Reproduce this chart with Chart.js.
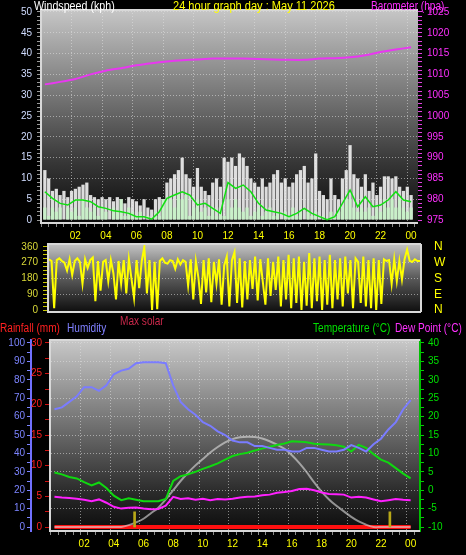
<!DOCTYPE html>
<html>
<head>
<meta charset="utf-8">
<title>24 hour graph day : May 11 2026</title>
<script src="https://cdn.jsdelivr.net/npm/chart.js@4.4.1/dist/chart.umd.min.js"></script>
<style>
  html, body { margin: 0; padding: 0; background: #000; }
  body { width: 466px; height: 555px; position: relative; overflow: hidden; font-family: "Liberation Sans", Arial, sans-serif; }
  canvas { position: absolute; left: 0; }
  .lbl { position: absolute; font-size: 12px; line-height: 12px; white-space: nowrap; transform-origin: left top; transform: scaleX(0.84); }
</style>
</head>
<body>
<canvas id="windChart" width="466" height="241" style="top:0"></canvas>
<canvas id="dirChart" width="466" height="77" style="top:241px"></canvas>
<canvas id="tempChart" width="466" height="237" style="top:318px"></canvas>

<div class="lbl" style="left:34px;top:0;color:#fff;transform:scaleX(0.89)">Windspeed (kph)</div>
<div class="lbl" style="left:173px;top:0;color:#ffff00;transform:scaleX(0.92)">24 hour graph day : May 11 2026</div>
<div class="lbl" style="left:371px;top:0;color:#ff30ff">Barometer (hpa)</div>
<div class="lbl" style="left:120px;top:315px;color:#c8284a">Max solar</div>
<div class="lbl" style="left:0;top:322px;color:#ff2020">Rainfall (mm)</div>
<div class="lbl" style="left:67px;top:322px;color:#8080ff">Humidity</div>
<div class="lbl" style="left:313px;top:322px;color:#00e000">Temperature (°C)</div>
<div class="lbl" style="left:395px;top:322px;color:#ff30ff">Dew Point (°C)</div>

<script>
// ---- data (hours 0..24) ----
// gusts / speeds every 15 min, kph
const windGust = [
  12, 10, 7, 7.5,   6, 7, 5.5, 7,   7.5, 8, 8.5, 9,   6, 5.5, 5, 5.5,
  5, 5.5, 4.5, 5.5, 5, 4, 5.5, 5,   4.5, 3.5, 5, 3,   2.5, 5, 5.5, 5,
  9, 10, 11, 12,    15, 11, 10, 8,  12.5, 8, 7, 6,    9, 10, 8, 15,
  14, 15, 13, 16,   15, 13, 10, 9,  8, 10, 8, 9,      11, 12, 9, 10,
  8, 9, 11, 12,     13, 9, 10, 16,  7, 6, 5, 10,      6, 5, 10, 12,
  18, 11, 10, 8,    11, 7, 9, 6,    8, 10.5, 10.5, 10, 10.5, 8, 7, 8,
  6
];
const windSpeed = [
  3, 1, 3, 2,  3, 0, 3, 2,  3, 1, 5, 3,  2, 3, 1, 3,
  2, 0, 3, 2,  5, 1, 3, 2,  1, 2, 0, 1,  0, 2, 1, 5,
  5, 5, 3, 6,  5, 6, 1, 3,  5, 2, 3, 1,  3, 1, 3, 1,
  5, 3, 5, 3,  2, 3, 1, 2,  3, 1, 2, 3,  1, 2, 0, 2,
  1, 3, 1, 2,  0, 2, 1, 2,  0, 1, 0, 2,  1, 2, 3, 5,
  5, 3, 2, 3,  2, 3, 1, 3,  2, 5, 3, 5,  3, 5, 3, 2,
  3
];
// average wind every 30 min
const windAvg = [
  6.8, 5.2, 4, 3.6, 4.8, 4.8, 4.4, 3.2, 2.8, 2.2, 2, 1.6,
  0.8, 0.8, 0.2, 2, 5.2, 6, 6.8, 6, 3.6, 4, 2.8, 1.6,
  9, 7.6, 8.4, 6.8, 4, 2.4, 2, 1.6, 0.8, 1.6, 2.8, 1.6,
  0.8, 0.1, 0.8, 4, 7.2, 3.2, 5.6, 3.2, 3.6, 4.8, 6.8, 4.8,
  4.4
];
// barometer hourly, hPa
const baroHpa = [
  1007.6, 1008.2, 1008.9, 1010.0, 1010.9, 1011.5, 1012.2, 1012.7, 1013.1, 1013.4,
  1013.6, 1013.8, 1013.8, 1013.8, 1013.7, 1013.6, 1013.5, 1013.5, 1013.8, 1013.9,
  1014.1, 1014.6, 1015.4, 1016.0, 1016.5
];
// wind direction every 10 min, degrees
const windDir = [
  290, 280, 10, 285, 295, 280,   270, 225, 290, 200, 280, 295,
  275, 150, 290, 240, 285, 300,  50, 280, 110, 275, 285, 165,
  285, 210, 60, 280, 150, 285,   95, 290, 180, 70, 285, 125,
  280, 360, 95, 285, 0, 275,     5, 280, 295, 270, 265, 285,
  280, 235, 290, 260, 285, 275,  140, 290, 60, 280, 185, 35,
  285, 100, 295, 45, 275, 150,   290, 30, 255, 305, 20, 285,
  330, 40, 295, 15, 280, 60,     285, 120, 305, 55, 290, 160,
  30, 295, 80, 275, 115, 305,    20, 285, 60, 315, 10, 295,
  40, 305, 0, 275, 25, 325,      10, 295, 50, 305, 0, 285,
  30, 315, 10, 285, 60, 295,     20, 305, 95, 285, 10, 295,
  275, 40, 305, 20, 285, 10,     295, 0, 285, 35, 290, 280,
  285, 150, 290, 165, 280, 175,  290, 345, 280, 275, 290, 280,
  280
];
// every 30 min
const humidity = [
  64, 65, 68, 71, 76, 76, 74, 77, 83, 85, 86, 89,
  89.5, 89.5, 89.5, 89, 77, 68, 64, 61, 57, 55, 52, 50,
  47, 46, 46, 44, 44, 43, 42, 42, 41, 41, 43, 43,
  42, 41, 41, 42, 44.5, 43, 41, 45, 48, 53, 57, 64,
  69
];
const temperature = [
  4.8, 4.3, 3.6, 3.2, 2.2, 1.3, 2.1, 0.6, -1.5, -2.7, -2.2, -2.6,
  -3, -3, -3, -2.4, 2.5, 3.8, 4.3, 5, 5.8, 6.5, 7.3, 8.3,
  9.3, 9.8, 10.2, 10.8, 11.3, 11.8, 12.3, 12.7, 13.3, 13.2, 13, 12.6,
  12.5, 12.4, 12.2, 11.8, 10.5, 12.3, 11.5, 9.8, 8.3, 7.5, 6, 4.5,
  3.2
];
const dewPoint = [
  -1.8, -2, -2.1, -2.3, -2.6, -3, -2.5, -3.4, -4.5, -5, -4.8, -4.7,
  -5, -5.2, -5.1, -4.2, -1.8, -2.4, -2.2, -2.6, -2.3, -2.7, -2.4, -2.5,
  -2.3, -2, -1.8, -1.7, -1.4, -1.2, -0.7, -0.5, -0.2, 0.3, 0.4, 0,
  -0.6, -1, -1.1, -1.2, -2, -1.8, -2, -2.5, -3, -2.7, -2.4, -2.6,
  -2.7
];
const maxSolar = [
  0, 0, 0, 0, 0, 0, 0, 0, 0, 0, 20, 50,
  90, 150, 210, 300, 400, 500, 590, 670, 740, 810, 870, 920,
  955, 975, 982, 978, 962, 932, 895, 850, 780, 695, 595, 485,
  385, 300, 230, 170, 110, 60, 25, 0, 0, 0, 0, 0,
  0
];
// rain hourly, mm
const rainMm = [0, 0, 0, 0, 0, 0, 0, 0, 0, 0, 0, 0, 0, 0, 0, 0, 0, 0, 0, 0, 0, 0, 0, 0, 0];
// sunrise / sunset markers (hour)
const sunHours = [5.4, 22.6];

// tick labels
const hourLabels = ['02', '04', '06', '08', '10', '12', '14', '16', '18', '20', '22', '00'];
const windTicks = [0, 5, 10, 15, 20, 25, 30, 35, 40, 45, 50];
const baroTicks = [975, 980, 985, 990, 995, 1000, 1005, 1010, 1015, 1020, 1025];
const dirTicks = [0, 90, 180, 270, 360];
const compassLabels = ['N', 'E', 'S', 'W', 'N'];
const humTicks = [0, 10, 20, 30, 40, 50, 60, 70, 80, 90, 100];
const rainTicks = [0, 5, 10, 15, 20, 25, 30];
const tempTicks = [-10, -5, 0, 5, 10, 15, 20, 25, 30, 35, 40];

// ---- helpers ----
const pts = (arr, step) => arr.map((v, i) => ({ x: i * step, y: v }));
const range = (a, b, s) => { const r = []; for (let v = a; v <= b + 1e-9; v += s) r.push(+v.toFixed(3)); return r; };
const gridCol = 'rgba(225,225,225,0.55)';
const font = { family: '"Liberation Sans", Arial, sans-serif', size: 10 };

// fixed axis box, no extra label padding (keeps the plot areas where they are)
const fix = (w, h) => s => {
  if (w != null) s.width = w;
  if (h != null) s.height = h;
  s.paddingTop = s.paddingBottom = s.paddingLeft = s.paddingRight = 0;
};

const hourTick = v => {
  const i = hourLabels.findIndex((_, k) => (k + 1) * 2 === v);
  return i >= 0 ? hourLabels[i] : '';
};

function xAxis(min, max, h) {
  return {
    type: 'linear', min, max,
    afterBuildTicks: s => { s.ticks = range(0, 24, 0.5).map(v => ({ value: v })); },
    afterFit: fix(null, h),
    ticks: { color: '#ffff00', font, padding: 3, maxRotation: 0, autoSkip: false, callback: hourTick },
    grid: { color: c => (c.tick && c.tick.value % 2 === 0) ? gridCol : 'transparent', tickColor: '#8a8a8a', tickLength: 4 },
    border: { display: false, dash: [1, 2] }
  };
}

// panel background + light frame
const panelBg = {
  id: 'panelBg',
  beforeDraw(chart, args, opts) {
    const { ctx, chartArea: a } = chart;
    const g = ctx.createLinearGradient(0, a.top, 0, a.bottom);
    opts.stops.forEach(s => g.addColorStop(s[0], s[1]));
    ctx.save();
    ctx.fillStyle = g;
    ctx.fillRect(a.left, a.top, a.right - a.left, a.bottom - a.top);
    ctx.restore();
  },
  afterDatasetsDraw(chart, args, opts) {
    const { ctx, chartArea: a } = chart;
    ctx.save();
    ctx.strokeStyle = '#d8d8d8';
    ctx.lineWidth = 2;
    ctx.beginPath();
    if (opts.right) { ctx.moveTo(a.right, a.top); ctx.lineTo(a.right, a.bottom); }
    ctx.moveTo(a.right, a.bottom); ctx.lineTo(a.left, a.bottom);
    ctx.lineTo(a.left, a.top); ctx.lineTo(a.right, a.top);
    ctx.stroke();
    ctx.restore();
  }
};

const base = {
  responsive: false,
  animation: false,
  events: []
};

// ---- panel 1: wind + barometer ----
new Chart(document.getElementById('windChart'), {
  type: 'bar',
  data: {
    datasets: [
      { type: 'line', label: 'Barometer', data: pts(baroHpa, 1), yAxisID: 'yBaro',
        borderColor: '#e838f0', borderWidth: 2, pointRadius: 0, tension: 0.2, order: 0 },
      { type: 'line', label: 'Average', data: pts(windAvg, 0.5), yAxisID: 'y',
        borderColor: '#10e010', borderWidth: 1.5, pointRadius: 0, order: 1 },
      { label: 'Speed', data: pts(windSpeed, 0.25), yAxisID: 'y', grouped: false,
        backgroundColor: 'rgba(200,242,200,0.92)', barPercentage: 0.85, categoryPercentage: 1, order: 2 },
      { label: 'Gust', data: pts(windGust, 0.25), yAxisID: 'y', grouped: false,
        backgroundColor: 'rgba(242,242,242,0.9)', barPercentage: 0.85, categoryPercentage: 1, order: 3 }
    ]
  },
  options: Object.assign({}, base, {
    layout: { padding: { top: 10 } },
    plugins: { legend: { display: false }, tooltip: { enabled: false },
      panelBg: { stops: [[0, '#c6c6c6'], [0.45, '#6c6c6c'], [0.72, '#363636'], [1, '#0a0a0a']] } },
    scales: {
      x: xAxis(0, 24.2, 18),
      y: {
        position: 'left', min: -0.72, max: 50.48,
        afterBuildTicks: s => { s.ticks = range(0, 50, 1).map(v => ({ value: v })); },
        afterFit: fix(41),
        ticks: { color: '#d0dcff', font, padding: 5, autoSkip: false,
          callback: v => windTicks.includes(v) ? String(v) : '' },
        grid: { color: c => (c.tick && c.tick.value % 5 === 0 && c.tick.value > 0) ? gridCol : 'transparent',
          tickColor: '#9a9a9a', tickLength: 4 },
        border: { display: false, dash: [1, 2] }
      },
      yBaro: {
        position: 'right', min: 974.28, max: 1025.48,
        afterBuildTicks: s => { s.ticks = range(975, 1025, 1).map(v => ({ value: v })); },
        afterFit: fix(48),
        ticks: { color: '#ff30ff', font, padding: 5, autoSkip: false,
          callback: v => baroTicks.includes(v) ? String(v) : '' },
        grid: { drawOnChartArea: false, tickColor: '#e040e0', tickLength: 4 },
        border: { display: false }
      }
    }
  }),
  plugins: [panelBg]
});

// ---- panel 2: wind direction ----
new Chart(document.getElementById('dirChart'), {
  type: 'line',
  data: {
    datasets: [
      { label: 'Direction', data: pts(windDir, 1 / 6), borderColor: '#ffff00', borderWidth: 2,
        pointRadius: 0, yAxisID: 'y' }
    ]
  },
  options: Object.assign({}, base, {
    layout: { padding: { top: 3, bottom: 6 } },
    plugins: { legend: { display: false }, tooltip: { enabled: false },
      panelBg: { right: true, stops: [[0, '#c4c4c4'], [0.5, '#5a5a5a'], [1, '#0e0e0e']] } },
    scales: {
      x: { type: 'linear', display: false, min: -0.065, max: 24.065 },
      y: {
        position: 'left', min: -11.4, max: 377,
        afterBuildTicks: s => { s.ticks = range(0, 360, 22.5).map(v => ({ value: v })); },
        afterFit: fix(48),
        ticks: { color: '#d8d838', font, padding: 5, autoSkip: false,
          callback: v => dirTicks.includes(v) ? String(v) : '' },
        grid: { color: c => (c.tick && c.tick.value % 90 === 0 && c.tick.value > 0 && c.tick.value < 360) ? gridCol : 'transparent',
          tickColor: '#c8c800', tickLength: 5 },
        border: { display: false, dash: [1, 2] }
      },
      yCompass: {
        position: 'right', min: -11.4, max: 377,
        afterBuildTicks: s => { s.ticks = dirTicks.map(v => ({ value: v })); },
        afterFit: fix(45),
        ticks: { color: '#ffff00', font: { family: font.family, size: 12 }, padding: 13, autoSkip: false,
          callback: v => compassLabels[dirTicks.indexOf(v)] },
        grid: { drawOnChartArea: false, drawTicks: false },
        border: { display: false }
      }
    }
  }),
  plugins: [panelBg]
});

// ---- panel 3: rain, humidity, temperature, dew point, solar ----
new Chart(document.getElementById('tempChart'), {
  type: 'line',
  data: {
    datasets: [
      { label: 'Humidity', data: pts(humidity, 0.5), yAxisID: 'yHum', borderColor: '#7a7cff',
        borderWidth: 2, pointRadius: 0, order: 1 },
      { label: 'Temperature', data: pts(temperature, 0.5), yAxisID: 'yTemp', borderColor: '#10d810',
        borderWidth: 2, pointRadius: 0, order: 2 },
      { label: 'Dew Point', data: pts(dewPoint, 0.5), yAxisID: 'yTemp', borderColor: '#ff20ff',
        borderWidth: 2, pointRadius: 0, order: 3 },
      { label: 'Max solar', data: pts(maxSolar, 0.5), yAxisID: 'ySolar', borderColor: 'rgba(225,225,225,0.6)',
        borderWidth: 2, pointRadius: 0, tension: 0.3, order: 4 },
      { label: 'Rainfall', data: pts(rainMm, 1), yAxisID: 'yRain', borderColor: '#ff1010',
        borderWidth: 4, pointRadius: 0, order: 5 },
      { type: 'bar', label: 'Sun', data: sunHours.map(h => ({ x: h, y: 165 })), yAxisID: 'ySolar',
        backgroundColor: '#b8a818', barThickness: 2, order: 0 }
    ]
  },
  options: Object.assign({}, base, {
    layout: { padding: { top: 22 } },
    plugins: { legend: { display: false }, tooltip: { enabled: false },
      panelBg: { stops: [[0, '#c8c8c8'], [0.5, '#666666'], [0.8, '#2a2a2a'], [1, '#0c0c0c']] } },
    scales: {
      x: xAxis(-0.046, 24.376, 24),
      yHum: {
        position: 'left', weight: 2, min: -2.17, max: 101.63,
        afterBuildTicks: s => { s.ticks = range(0, 100, 5).map(v => ({ value: v })); },
        afterFit: fix(31),
        ticks: { color: '#7c84ff', font, padding: 2, autoSkip: false,
          callback: v => humTicks.includes(v) ? String(v) : '' },
        grid: { color: c => (c.tick && c.tick.value % 10 === 0 && c.tick.value > 0) ? gridCol : 'transparent',
          tickColor: '#7c84ff', tickLength: 4 },
        border: { display: true, color: '#7070ff', width: 2, dash: [1, 2] }
      },
      yRain: {
        position: 'left', weight: 1, min: -0.651, max: 30.489,
        afterBuildTicks: s => { s.ticks = range(0, 30, 2.5).map(v => ({ value: v })); },
        afterFit: fix(19),
        ticks: { color: '#ff2020', font, padding: 3, autoSkip: false,
          callback: v => rainTicks.includes(v) ? String(v) : '' },
        grid: { drawOnChartArea: false, tickColor: '#d01010', tickLength: 5 },
        border: { display: false }
      },
      yTemp: {
        position: 'right', min: -11.085, max: 40.815,
        afterBuildTicks: s => { s.ticks = range(-10, 40, 2.5).map(v => ({ value: v })); },
        afterFit: fix(46),
        ticks: { color: '#00e000', font, padding: 4, autoSkip: false,
          callback: v => tempTicks.includes(v) ? String(v) : '' },
        grid: { drawOnChartArea: false, tickColor: '#00d000', tickLength: 4 },
        border: { display: true, color: '#00c000', width: 2 }
      },
      ySolar: { display: false, min: -43.4, max: 2032.6 }
    }
  }),
  plugins: [panelBg]
});
</script>
</body>
</html>
